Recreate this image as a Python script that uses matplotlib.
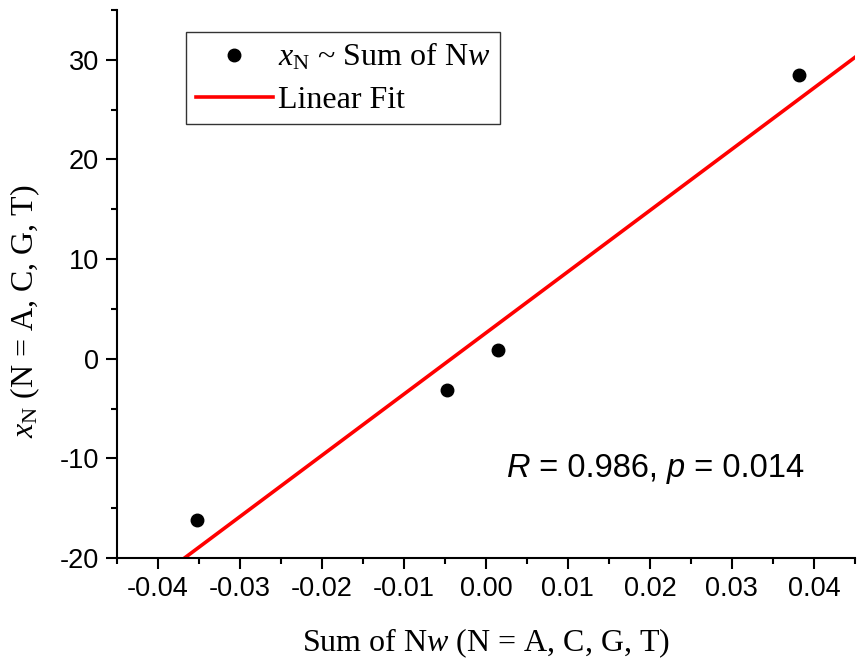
import matplotlib
matplotlib.use('Agg')
import matplotlib.pyplot as plt
import numpy as np
from matplotlib.offsetbox import TextArea, HPacker, AnchoredOffsetbox
from matplotlib.ticker import MultipleLocator

plt.rcParams['mathtext.fontset'] = 'custom'
plt.rcParams['mathtext.rm'] = 'Liberation Serif'
plt.rcParams['mathtext.it'] = 'Liberation Serif:italic'

# data
sum_nw = [-0.0353, -0.0048, 0.0015, 0.0382]
x_n = [-16.2, -3.1, 0.9, 28.5]
r_text = '0.986'
p_text = '0.014'

slope, intercept = np.polyfit(sum_nw, x_n, 1)

fig = plt.figure(figsize=(8.57, 6.63), dpi=100)
ax = fig.add_axes([0.1365, 0.1584, 0.861, 0.8266])

xfit = np.array([-0.045, 0.045])
ax.plot(xfit, slope * xfit + intercept, color='#ff0000', lw=2.6, label='Linear Fit', zorder=2)
ax.plot(sum_nw, x_n, 'o', color='black', ms=9, label=r'$x_\mathrm{N}$ ~ Sum of N$w$', zorder=3)

ax.set_xlim(-0.045, 0.045)
ax.set_ylim(-20, 35)
ax.xaxis.set_minor_locator(MultipleLocator(0.005))
ax.yaxis.set_minor_locator(MultipleLocator(5))
ax.set_xticks(np.arange(-0.04, 0.041, 0.01))
ax.set_xticklabels(['-0.04', '-0.03', '-0.02', '-0.01', '0.00', '0.01', '0.02', '0.03', '0.04'])
ax.set_yticks([-20, -10, 0, 10, 20, 30])
ax.set_yticklabels(['-20', '-10', '0', '10', '20', '30'])

for s in ['top', 'right']:
    ax.spines[s].set_visible(False)
for s in ['left', 'bottom']:
    ax.spines[s].set_linewidth(1.5)
ax.tick_params(which='major', direction='out', length=8, width=1.5, labelsize=19.5, pad=5)
ax.tick_params(which='minor', direction='out', length=4.5, width=1.5)
for lbl in ax.get_xticklabels() + ax.get_yticklabels():
    lbl.set_family('Liberation Sans')

ax.set_xlabel('Sum of N$w$ (N = A, C, G, T)', family='Liberation Serif', fontsize=23)
ax.set_ylabel(r'$x_\mathrm{N}$ (N = A, C, G, T)', family='Liberation Serif', fontsize=23)
ax.xaxis.set_label_coords(0.5, -0.125)
ax.yaxis.set_label_coords(-0.102, 0.45)

handles, labels = ax.get_legend_handles_labels()
leg = ax.legend(handles[::-1], labels[::-1], loc='upper left', bbox_to_anchor=(0.094, 0.96),
                borderaxespad=0, fancybox=False, framealpha=1, edgecolor='#333333',
                prop={'family': 'Liberation Serif', 'size': 23}, handlelength=2.4,
                handletextpad=0.18, borderpad=0.3, labelspacing=0.39)
leg.get_frame().set_linewidth(1.0)

tp = {'family': 'Liberation Sans', 'size': 23.5}
tpi = {'family': 'Liberation Sans', 'size': 23.5, 'style': 'italic'}
parts = [TextArea('R', textprops=tpi), TextArea(' = ' + r_text + ', ', textprops=tp),
         TextArea('p', textprops=tpi), TextArea(' = ' + p_text, textprops=tp)]
box = HPacker(children=parts, align='baseline', pad=0, sep=0)
anc = AnchoredOffsetbox(loc='center', child=box, frameon=False,
                        bbox_to_anchor=(0.730, 0.164), bbox_transform=ax.transAxes, borderpad=0)
ax.add_artist(anc)

fig.savefig('out.png', dpi=100)
